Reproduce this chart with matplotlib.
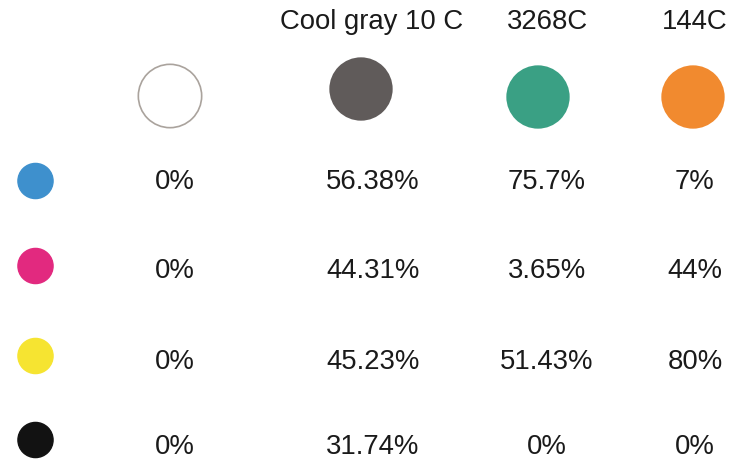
import matplotlib.pyplot as plt

plt.rcParams['font.family'] = ['Liberation Sans', 'DejaVu Sans']

# spot colours (columns) and process inks (rows)
spot_names = ['', 'Cool gray 10 C', '3268C', '144C']
spot_colors = ['#ffffff', '#605b5a', '#3aa084', '#f18a2f']
ink_colors = ['#3e90cd', '#e2297f', '#f6e431', '#121212']
ink_values = [
    ['0%', '56.38%', '75.7%', '7%'],
    ['0%', '44.31%', '3.65%', '44%'],
    ['0%', '45.23%', '51.43%', '80%'],
    ['0%', '31.74%', '0%', '0%'],
]

# layout in pixel coordinates
col_x = [170, 361, 538, 693]
col_text_x = [175, 373, 547, 695]
label_x = [170, 372, 547, 695]
head_y = [96, 89, 97, 97]
row_y = [181, 266, 356, 440]
row_text_y = [182, 271, 362, 447]
ink_x = 35.5

fig = plt.figure(figsize=(7.34, 4.68), dpi=100)
ax = fig.add_axes([0, 0, 1, 1])
ax.set_xlim(0, 734)
ax.set_ylim(468, 0)
ax.axis('off')

ax.scatter(col_x, head_y, s=2080, c=spot_colors,
           edgecolors=['#aaa39d', 'none', 'none', 'none'], linewidths=1.2)
for x, name in zip(label_x, spot_names):
    ax.text(x, 22, name, ha='center', va='center', fontsize=19.8, color='#1a1a1a')

ax.scatter([ink_x] * len(row_y), row_y, s=640, c=ink_colors)
for i, y in enumerate(row_text_y):
    for j, x in enumerate(col_text_x):
        ax.text(x, y, ink_values[i][j], ha='center', va='center',
                fontsize=19.8, color='#1a1a1a')

fig.savefig('out.png', dpi=100)
